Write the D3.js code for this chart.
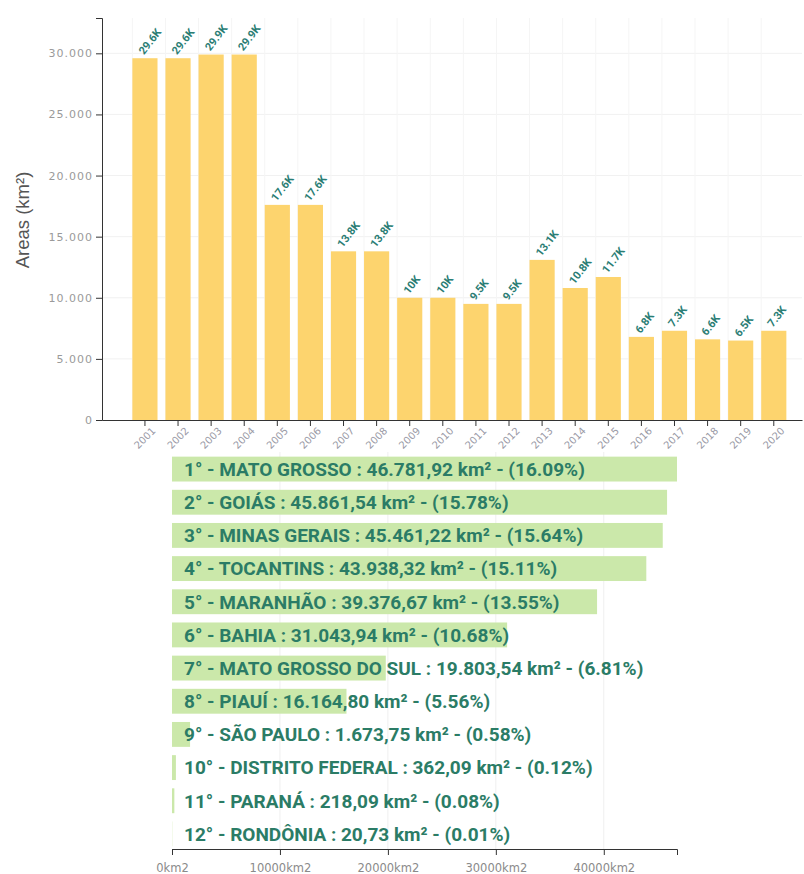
<!DOCTYPE html>
<html>
<head>
<meta charset="utf-8">
<script src="https://cdn.jsdelivr.net/npm/d3@7"></script>
<style>
  html, body { margin: 0; padding: 0; background: #fff; }
  svg { display: block; }
</style>
</head>
<body>
<svg id="chart" width="804" height="874"></svg>
<script>
// Yearly cleared area (km²)
const years = ["2001","2002","2003","2004","2005","2006","2007","2008","2009","2010",
               "2011","2012","2013","2014","2015","2016","2017","2018","2019","2020"];
const yearAreas = [29600, 29600, 29900, 29900, 17600, 17600, 13800, 13800, 10000, 10000,
                   9500, 9500, 13100, 10800, 11700, 6800, 7300, 6600, 6500, 7300];
const yTicks = [0, 5000, 10000, 15000, 20000, 25000, 30000];

// Ranking by state (km²)
const states = ["MATO GROSSO", "GOIÁS", "MINAS GERAIS", "TOCANTINS", "MARANHÃO", "BAHIA",
                "MATO GROSSO DO SUL", "PIAUÍ", "SÃO PAULO", "DISTRITO FEDERAL", "PARANÁ", "RONDÔNIA"];
const stateAreas = [46781.92, 45861.54, 45461.22, 43938.32, 39376.67, 31043.94,
                    19803.54, 16164.80, 1673.75, 362.09, 218.09, 20.73];
const stateTicks = [0, 10000, 20000, 30000, 40000];

const svg = d3.select("#chart");
const br = d3.formatLocale({ decimal: ",", thousands: ".", grouping: [3], currency: ["R$", ""] });
const axisFont = "DejaVu Sans, Verdana, sans-serif";

/* ---------- upper panel: yearly bars ---------- */
const yearBox = { left: 102, right: 802, top: 18, bottom: 420 };
const x = d3.scaleBand().domain(years).range([yearBox.left, yearBox.right])
  .paddingInner(0.24).paddingOuter(0.695).align(0.66);
const y = d3.scaleLinear().domain([0, d3.max(yearAreas) * 1.1]).range([yearBox.bottom, yearBox.top]);

const gYear = svg.append("g");

// faint grid
gYear.append("g").selectAll("line").data(yTicks.slice(1)).join("line")
  .attr("x1", yearBox.left).attr("x2", yearBox.right)
  .attr("y1", d => y(d)).attr("y2", d => y(d))
  .attr("stroke", "#f1f1f1");
gYear.append("g").selectAll("line").data(years).join("line")
  .attr("x1", d => x(d)).attr("x2", d => x(d))
  .attr("y1", yearBox.top).attr("y2", yearBox.bottom)
  .attr("stroke", "#f5f5f5");

gYear.append("g").selectAll("rect").data(years).join("rect")
  .attr("x", d => x(d)).attr("width", x.bandwidth())
  .attr("y", (d, i) => y(yearAreas[i]))
  .attr("height", (d, i) => y(0) - y(yearAreas[i]))
  .attr("fill", "#fdd46e");

const kfmt = d3.format(".3~s");
gYear.append("g").selectAll("text").data(years).join("text")
  .attr("transform", (d, i) => `translate(${x(d) + x.bandwidth() / 2 - 1},${y(yearAreas[i]) - 3}) rotate(-52)`)
  .attr("font-family", "Roboto, sans-serif")
  .attr("font-size", 11).attr("font-weight", 700)
  .attr("fill", "#2a7d74")
  .text((d, i) => kfmt(yearAreas[i]).replace("k", "K"));

const yAxis = gYear.append("g").attr("transform", `translate(${yearBox.left},0)`)
  .call(d3.axisLeft(y).tickValues(yTicks).tickFormat(br.format(",")).tickSizeOuter(6));
yAxis.selectAll("text").attr("font-family", axisFont)
  .attr("font-size", 11).attr("fill", "#9a9a9a").attr("letter-spacing", 1);
yAxis.selectAll("line, path").attr("stroke", "#333");

const xAxis = gYear.append("g").attr("transform", `translate(0,${yearBox.bottom})`)
  .call(d3.axisBottom(x).tickSizeOuter(0));
xAxis.selectAll("text").attr("font-family", axisFont)
  .attr("font-size", 10).attr("fill", "#9a9aa6")
  .style("text-anchor", "end").attr("transform", "rotate(-45)");
xAxis.selectAll("line, path").attr("stroke", "#333");

svg.append("text")
  .attr("transform", `translate(29,220) rotate(-90)`)
  .attr("text-anchor", "middle")
  .attr("font-family", "Liberation Sans, Arial, sans-serif")
  .attr("font-size", 18.5).attr("fill", "#555")
  .text("Areas (km²)");

/* ---------- lower panel: ranking by state ---------- */
const stateBox = { left: 172, right: 677, top: 450, bottom: 849 };
const xs = d3.scaleLinear().domain([0, d3.max(stateAreas)]).range([stateBox.left, stateBox.right]);
const ys = d3.scaleBand().domain(states).range([stateBox.top, stateBox.bottom + 4])
  .paddingInner(0.25).paddingOuter(0.2);
const total = d3.sum(stateAreas);

const gState = svg.append("g");
gState.append("g").selectAll("line").data(stateTicks.slice(1)).join("line")
  .attr("x1", d => xs(d)).attr("x2", d => xs(d))
  .attr("y1", stateBox.top + 2).attr("y2", stateBox.bottom)
  .attr("stroke", "#efefef");

gState.append("g").selectAll("rect").data(states).join("rect")
  .attr("x", xs(0)).attr("y", d => ys(d))
  .attr("width", (d, i) => xs(stateAreas[i]) - xs(0))
  .attr("height", ys.bandwidth())
  .attr("fill", "#cbe8aa");

const nfmt = br.format(",.2f");
gState.append("g").selectAll("text").data(states).join("text")
  .attr("x", xs(0) + 12)
  .attr("y", d => ys(d) + ys.bandwidth() / 2)
  .attr("dy", "0.36em")
  .attr("font-family", "Roboto, sans-serif")
  .attr("font-size", 19).attr("font-weight", 700)
  .attr("fill", "#2b7c66")
  .text((d, i) => `${i + 1}° - ${d} : ${nfmt(stateAreas[i])} km² - (${(stateAreas[i] / total * 100).toFixed(2)}%)`);

const sAxis = gState.append("g").attr("transform", `translate(0,${stateBox.bottom})`)
  .call(d3.axisBottom(xs).tickValues(stateTicks).tickFormat(d => d + "km2"));
sAxis.selectAll("text").attr("font-family", axisFont)
  .attr("font-size", 11.5).attr("fill", "#8a8a8a").attr("dy", "1.2em");
sAxis.selectAll("line, path").attr("stroke", "#333");
</script>
</body>
</html>
